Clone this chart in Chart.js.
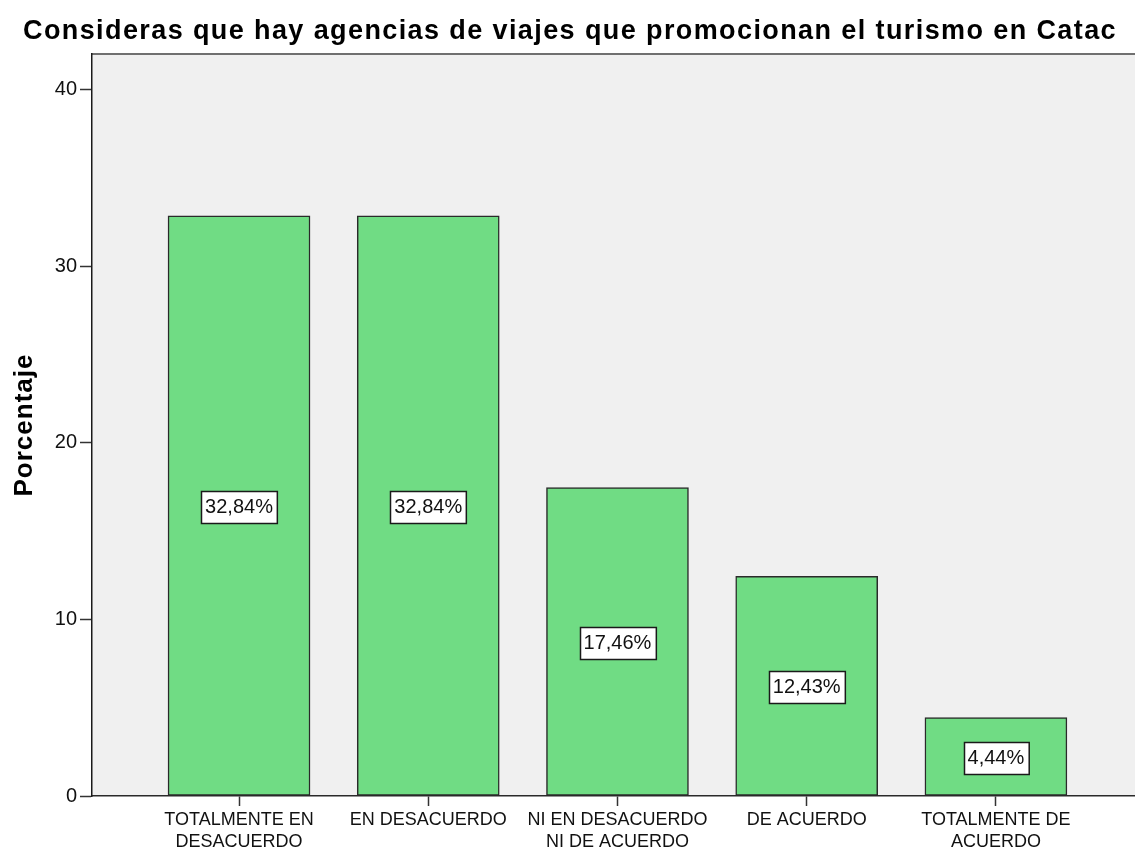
<!DOCTYPE html>
<html>
<head>
<meta charset="utf-8">
<script src="https://cdn.jsdelivr.net/npm/chart.js@4/dist/chart.umd.min.js"></script>
<style>
  html, body { margin: 0; padding: 0; background: #fff; }
  canvas { display: block; }
</style>
</head>
<body>
<canvas id="chart" width="1135" height="848"></canvas>
<script>
// categories (multi-line labels as in the original)
const categories = [
    ['TOTALMENTE EN', 'DESACUERDO'],
    'EN DESACUERDO',
    ['NI EN DESACUERDO', 'NI DE ACUERDO'],
    'DE ACUERDO',
    ['TOTALMENTE DE', 'ACUERDO']
];
const percentages = [32.84, 32.84, 17.46, 12.43, 4.44];
const yTicks = [0, 10, 20, 30, 40];

const chartTitle = 'Consideras que hay agencias de viajes que promocionan el turismo en Catac';
const yTitle = 'Porcentaje';

const fontFamily = '"Liberation Sans", Arial, sans-serif';

// plot background + top frame line
const plotBackground = {
    id: 'plotBackground',
    beforeDraw(chart) {
        const { ctx, chartArea } = chart;
        ctx.save();
        ctx.fillStyle = '#f0f0f0';
        ctx.fillRect(chartArea.left, chartArea.top, chartArea.right - chartArea.left, chartArea.bottom - chartArea.top);
        ctx.strokeStyle = '#707070';
        ctx.lineWidth = 2;
        ctx.beginPath();
        ctx.moveTo(chartArea.left, chartArea.top);
        ctx.lineTo(chartArea.right, chartArea.top);
        ctx.stroke();
        ctx.restore();
    }
};

// bold titles are drawn by hand, they are a bit wider than plain Arial
const titles = {
    id: 'titles',
    afterDraw(chart) {
        const { ctx, chartArea } = chart;
        ctx.save();
        ctx.fillStyle = '#000';
        ctx.font = 'bold 27px ' + fontFamily;
        ctx.letterSpacing = '1.4px';
        ctx.textAlign = 'center';
        ctx.textBaseline = 'alphabetic';
        ctx.fillText(chartTitle, 570, 39);

        ctx.font = 'bold 26px ' + fontFamily;
        ctx.letterSpacing = '1px';
        ctx.translate(32, (chartArea.top + chartArea.bottom) / 2);
        ctx.rotate(-Math.PI / 2);
        ctx.fillText(yTitle, 0, 0);
        ctx.restore();
    }
};

// percentage boxes in the middle of each bar
const valueBoxes = {
    id: 'valueBoxes',
    afterDatasetsDraw(chart) {
        const { ctx } = chart;
        const meta = chart.getDatasetMeta(0);
        ctx.save();
        ctx.font = '20px ' + fontFamily;
        ctx.textAlign = 'center';
        ctx.textBaseline = 'middle';
        meta.data.forEach((bar, i) => {
            const text = percentages[i].toFixed(2).replace('.', ',') + '%';
            const w = ctx.measureText(text).width + 8;
            const h = 32;
            const cy = (bar.y + bar.base) / 2;
            const x0 = Math.round(bar.x - w / 2) + 0.5;
            const y0 = Math.round(cy - h / 2) + 1.5;
            ctx.fillStyle = '#fff';
            ctx.fillRect(x0, y0, w, h);
            ctx.strokeStyle = '#1a1a1a';
            ctx.lineWidth = 1.5;
            ctx.strokeRect(x0, y0, w, h);
            ctx.fillStyle = '#111';
            ctx.fillText(text, bar.x, cy + 2);
        });
        ctx.restore();
    }
};

new Chart(document.getElementById('chart'), {
    type: 'bar',
    data: {
        datasets: [{
            data: percentages.map((v, i) => ({ x: i, y: v })),
            backgroundColor: '#70dc84',
            borderColor: '#2a2a2a',
            borderWidth: 1.5,
            borderSkipped: false,
            barThickness: 142
        }]
    },
    options: {
        responsive: false,
        animation: false,
        layout: { padding: { top: 54, left: 0, right: 0, bottom: 0 } },
        plugins: {
            legend: { display: false },
            title: { display: false },
            tooltip: { enabled: false }
        },
        scales: {
            x: {
                type: 'linear',
                min: -0.777,
                max: 4.735,
                offset: false,
                afterBuildTicks: axis => { axis.ticks = categories.map((c, i) => ({ value: i })); },
                afterFit: axis => { axis.height = 52; },
                grid: {
                    offset: false,
                    drawOnChartArea: false,
                    drawTicks: true,
                    tickLength: 10,
                    tickWidth: 1.5,
                    tickColor: '#333'
                },
                border: { display: true, color: '#2a2a2a', width: 1.5 },
                ticks: {
                    autoSkip: false,
                    maxRotation: 0,
                    padding: 4,
                    color: '#111',
                    font: { family: fontFamily, size: 18, lineHeight: 1.17 },
                    callback: (value) => categories[value]
                }
            },
            y: {
                min: 0,
                max: 42,
                afterBuildTicks: axis => { axis.ticks = yTicks.map(v => ({ value: v })); },
                afterFit: axis => { axis.width = 92; },
                grid: {
                    drawOnChartArea: false,
                    drawTicks: true,
                    tickLength: 12,
                    tickWidth: 1.5,
                    tickColor: '#333'
                },
                border: { display: true, color: '#1a1a1a', width: 1.5 },
                ticks: {
                    padding: 3,
                    color: '#111',
                    font: { family: fontFamily, size: 20 }
                }
            }
        }
    },
    plugins: [plotBackground, titles, valueBoxes]
});
</script>
</body>
</html>
